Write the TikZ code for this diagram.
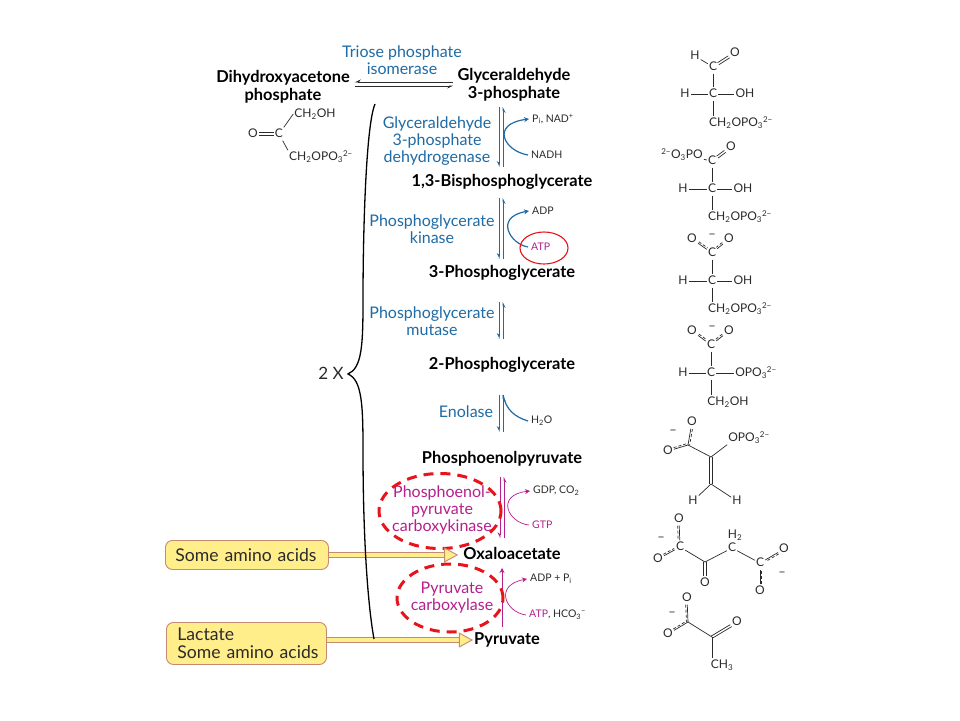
\documentclass[tikz,border=0pt]{standalone}
\usepackage{fontspec}
\setmainfont{Lato}
\usepackage{tikz}
\usetikzlibrary{arrows.meta,positioning,calc,shapes.geometric}
\definecolor{pblue}{HTML}{1F6BA5}
\definecolor{pmag}{HTML}{B5208D}
\definecolor{pred}{HTML}{E8141C}
\definecolor{pyel}{HTML}{FFEE8A}
\definecolor{pbrown}{HTML}{C48A72}
\definecolor{pink}{HTML}{2B2B2B}
\newcommand{\lo}[1]{\textsubscript{#1}}
\newcommand{\hi}[1]{\textsuperscript{#1}}
\newcommand{\pbond}[3]{\draw[bond] (#1) -- (#2);
  \draw[bond,densely dashed,transform canvas={shift={#3}}] (#1) -- (#2);}
\newcommand{\dbl}[4]{\draw[bond,transform canvas={shift={#3}}] (#1) -- (#2);
  \draw[bond,transform canvas={shift={#4}}] (#1) -- (#2);}
\tikzset{
  metab/.style={font=\fontsize{16.4}{17.5}\selectfont\bfseries,align=center,inner sep=1pt,text=black},
  enz/.style={font=\fontsize{16}{17}\selectfont,align=center,inner sep=1pt,text=pblue},
  enzm/.style={enz,text=pmag},
  cof/.style={font=\fontsize{10.5}{12}\selectfont,anchor=west,inner sep=3pt,text=pink},
  atom/.style={font=\fontsize{12}{14}\selectfont,inner sep=1pt,text=pink,text height=9pt,text depth=2pt},
  bond/.style={draw=pink,line width=0.7pt},
  fwd/.style={draw=pblue,line width=1.2pt,-{Stealth[harpoon,swap,length=5pt,width=5pt]}},
  side/.style={draw=pblue,line width=1.2pt,-{Stealth[length=5pt,width=5pt]}},
  fwdm/.style={draw=pmag,line width=0.6pt,-{Stealth[harpoon,swap,length=5pt,width=5pt]}},
  sidem/.style={draw=pmag,line width=0.7pt,-{Stealth[length=5pt,width=5pt]}},
  ring/.style={ellipse,draw=pred,inner sep=0pt},
  dring/.style={ring,line width=3pt,dash pattern=on 10pt off 7pt},
  ybox/.style={draw=pbrown,fill=pyel,rounded corners=7pt,line width=0.9pt,anchor=north west,
               align=left,font=\fontsize{17.6}{18}\selectfont,text=pink,inner ysep=0pt},
  yarr/.style={draw=pbrown,line width=0.9pt,double=pyel,double distance=4pt,
               -{Triangle[length=14pt,width=15pt,fill=pyel]}},
}
\begin{document}
\begin{tikzpicture}[x=1pt,y=-1pt]
\useasboundingbox (0,0) rectangle (960,720);
\fill[white] (0,0) rectangle (960,720);
% metabolites down the pathway
\foreach \n/\x/\y/\t in {dhap/283/87/{Dihydroxyacetone\\phosphate},gap/514/85/{Glyceraldehyde\\3-phosphate},
  bpg/502/182/{1,3-Bisphosphoglycerate},pga/502/273/{3-Phosphoglycerate},tpg/502/365/{2-Phosphoglycerate},
  pep/502/459/{Phosphoenolpyruvate},oaa/512/553/{Oxaloacetate},pyr/507/640/{Pyruvate}}{
  \node[metab] (\n) at (\x,\y) {\t};}
% enzymes
\foreach \n/\x/\y/\t in {tim/402/60/{Triose phosphate\\isomerase},gapdh/437/141/{Glyceraldehyde\\3-phosphate\\dehydrogenase},
  pgk/432/229/{Phosphoglycerate\\kinase},pgm/432/321/{Phosphoglycerate\\mutase},eno/466/412/{Enolase}}{
  \node[enz] (\n) at (\x,\y) {\t};}
\node[enzm] (pepck) at (442,510) {Phosphoenol-\\pyruvate\\carboxykinase};
\node[enzm] (pc) at (452,598) {Pyruvate\\carboxylase};
% cofactors
\node[cof] (pi) at (529,119) {P\lo{i}, NAD\hi{+}};
\node[cof] (nadh) at (528,155) {NADH};
\node[cof] (adp) at (529,211) {ADP};
\node[cof,text=pmag] (atp) at (528,247) {ATP};
\node[cof] (hho) at (528,421) {H\lo{2}O};
\node[cof] (gdp) at (530,491) {GDP, CO\lo{2}};
\node[cof,text=pmag] (gtp) at (529,525) {GTP};
\node[cof] (adpi) at (527,579) {ADP + P\lo{i}};
\node[cof] (atph) at (526,615) {\textcolor{pmag}{ATP}, HCO\lo{3}\hi{−}};
% reversible arrows
\coordinate (isol) at (355,84);
\coordinate (isor) at (453,84);
\draw[fwd,line width=0.7pt,draw=pink] ([yshift=-2pt]isol) -- ([yshift=-2pt]isor);
\draw[fwd,line width=0.7pt,draw=pink] ([yshift=2pt]isor) -- ([yshift=2pt]isol);
\foreach \n/\t/\b in {ra/107/167,rb/198/259,rc/302/339,rd/395/432}{
  \coordinate (\n t) at (501.2,\t);
  \coordinate (\n b) at (501.2,\b);
  \draw[fwd] ([xshift=-1.9pt]\n t) -- ([xshift=-1.9pt]\n b);
  \draw[fwd] ([xshift=1.9pt]\n b) -- ([xshift=1.9pt]\n t);}
\coordinate (ret) at (502,477);
\coordinate (reb) at (502,538);
\draw[fwdm] ([xshift=-2pt]ret) -- ([xshift=-2pt]reb);
\draw[fwdm] ([xshift=2pt]reb) -- ([xshift=2pt]ret);
\coordinate (rft) at (502,568);
\coordinate (rfb) at (502,627);
\draw[draw=pmag,line width=0.6pt,-{Stealth[length=5pt,width=5pt]}] (rfb) -- (rft);
% side arrows
\draw[side] (nadh.west) .. controls (504,151) and (490,124) .. (pi.west);
\draw[side] (atp.west) .. controls (510,244) and (494,217) .. (adp.west);
\draw[side,-] (hho.west) .. controls (515,417) and (506,410) .. ([xshift=1.9pt]rdt);
\draw[sidem] (gtp.west) .. controls (508,523) and (495,495) .. (gdp.west);
\draw[sidem] (atph.west) .. controls (505,612) and (494,585) .. (adpi.west);
% circled cofactor and dashed enzymes
\node[ring,line width=1.1pt,minimum width=48pt,minimum height=32pt] (atpring) at (544,248) {};
\node[dring,minimum width=122pt,minimum height=75pt] (pepring) at (440,511) {};
\node[dring,minimum width=106pt,minimum height=68pt] (pcring) at (450,598) {};
% precursors
\node[ybox,text width=143pt,inner xsep=10pt,minimum height=29pt] (some) at (165,540) {\mbox{Some amino acids}};
\node[ybox,text width=138pt,inner xsep=11pt,minimum height=42pt] (lact) at (166,622) {Lactate\\\mbox{Some amino acids}};
\draw[yarr,shorten >=4pt] (some.east) -- (some.east -| oaa.west);
\draw[yarr] (lact.east |- pyr) -- (pyr.west);
% big brace
\node[font=\fontsize{17}{18}\selectfont,text=pink,inner sep=1pt] (twox) at (331,373) {2 X};
\coordinate (brtop) at (375,104);
\coordinate (brtip) at (348,374);
\coordinate (brbot) at (374,639);
\draw[black,line width=1.3pt] (brtop) .. controls (366,125) and (363,230) .. (363,300)
  .. controls (363,345) and (362,368) .. (brtip) .. controls (362,380) and (363,405) .. (363,450)
  .. controls (363,530) and (367,600) .. (brbot);
% DHAP structure
\foreach \n/\x/\y/\t in {da/253/134/O,db/279/134/C,dc/315/114/{CH\lo{2}OH},dd/321/157/{CH\lo{2}OPO\lo{3}\hi{2−}}}{
  \node[atom] (\n) at (\x,\y) {\t};}
\dbl{da}{db}{(0,1.2)}{(0,-1.2)}
\draw[bond] (db) -- (dc.west);
\draw[bond] (db) -- (dd.north west);
% glyceraldehyde 3-phosphate
\foreach \n/\x/\y/\t in {aa/695/56/H,ab/713/67/C,ac/735/53/O,ad/713/94/C,ae/685/94/H,af/745/94/OH,ag/741/123/{CH\lo{2}OPO\lo{3}\hi{2−}}}{
  \node[atom] (\n) at (\x,\y) {\t};}
\draw[bond] (aa) -- (ab);
\dbl{ab}{ac}{(0.7,1)}{(-0.7,-1)}
\draw[bond] (ab) -- (ad);
\draw[bond] (ae) -- (ad) -- (af);
\draw[bond] (ad) -- (ag.north -| ad);
% 1,3-bisphosphoglycerate
\foreach \n/\x/\y/\t in {ba/682/155/{\hi{2−}O\lo{3}PO},bb/712/161/C,bc/731/147/O,bd/712/189/C,be/683/189/H,bf/743/189/OH,bg/740/217/{CH\lo{2}OPO\lo{3}\hi{2−}}}{
  \node[atom] (\n) at (\x,\y) {\t};}
\draw[bond] (ba) -- (bb);
\dbl{bb}{bc}{(0.7,1)}{(-0.7,-1)}
\draw[bond] (bb) -- (bd);
\draw[bond] (be) -- (bd) -- (bf);
\draw[bond] (bd) -- (bg.north -| bd);
% 3-phosphoglycerate
\foreach \n/\x/\y/\t in {ca/692/239/O,cm/712/235/−,cb/729/239/O,cc/712/253/C,cd/712/281/C,ce/683/281/H,cf/743/281/OH,cg/740/309/{CH\lo{2}OPO\lo{3}\hi{2−}}}{
  \node[atom] (\n) at (\x,\y) {\t};}
\pbond{ca}{cc}{(0.9,-1.4)}
\pbond{cb}{cc}{(-0.9,-1.4)}
\draw[bond] (cc) -- (cd);
\draw[bond] (ce) -- (cd) -- (cf);
\draw[bond] (cd) -- (cg.north -| cd);
% 2-phosphoglycerate
\foreach \n/\x/\y/\t in {ea/692/331/O,em/712/327/−,eb/729/331/O,ec/711/345/C,ed/711/373/C,ee/683/373/H,ef/756/373/{OPO\lo{3}\hi{2−}},eg/728/402/{CH\lo{2}OH}}{
  \node[atom] (\n) at (\x,\y) {\t};}
\pbond{ea}{ec}{(0.9,-1.4)}
\pbond{eb}{ec}{(-0.9,-1.4)}
\draw[bond] (ec) -- (ed);
\draw[bond] (ee) -- (ed) -- (ef);
\draw[bond] (ed) -- (eg.north -| ed);
% phosphoenolpyruvate
\foreach \n/\x/\y/\t in {fa/692/422/O,fm/673/431/−,fb/668/451/O,ff/749/438/{OPO\lo{3}\hi{2−}},fg/693/501/H,fh/737/501/H}{
  \node[atom] (\n) at (\x,\y) {\t};}
\coordinate (fc) at (688,445);
\coordinate (fd) at (711,457);
\coordinate (fe) at (711,484);
\pbond{fa}{fc}{(1.6,0.4)}
\pbond{fb}{fc}{(-0.4,-1.6)}
\draw[bond] (fc) -- (fd);
\draw[bond] (fd) -- (ff.south west);
\dbl{fd}{fe}{(1.2,0)}{(-1.2,0)}
\draw[bond] (fe) -- (fg);
\draw[bond] (fe) -- (fh);
% oxaloacetate
\foreach \n/\x/\y/\t in {ga/679/519/O,gm/661/538/−,gb/658/559/O,gc/680/547/C,ge/705/583/O,gf/732/548/C,gh/735/535/{H\lo{2}},gi/760/563/C,gj/784/549/O,gk/760/591/O,gn/782/573/−}{
  \node[atom] (\n) at (\x,\y) {\t};}
\coordinate (gd) at (705,562);
\pbond{ga}{gc}{(-1.6,0)}
\pbond{gb}{gc}{(-0.7,-1.4)}
\draw[bond] (gc) -- (gd) -- (gf);
\dbl{gd}{ge}{(1.2,0)}{(-1.2,0)}
\draw[bond] (gf) -- (gi);
\pbond{gj}{gi}{(0.7,1.4)}
\pbond{gk}{gi}{(1.6,0)}
% pyruvate
\foreach \n/\x/\y/\t in {ha/687/598/O,hm/672/613/−,hb/668/634/O,he/737/622/O,hf/722/665/{CH\lo{3}}}{
  \node[atom] (\n) at (\x,\y) {\t};}
\coordinate (hc) at (688,622);
\coordinate (hd) at (712,637);
\pbond{ha}{hc}{(-1.6,0)}
\pbond{hb}{hc}{(-0.7,-1.4)}
\draw[bond] (hc) -- (hd);
\dbl{hd}{he}{(0.7,1)}{(-0.7,-1)}
\draw[bond] (hd) -- (hf.north -| hd);
\end{tikzpicture}
\end{document}
